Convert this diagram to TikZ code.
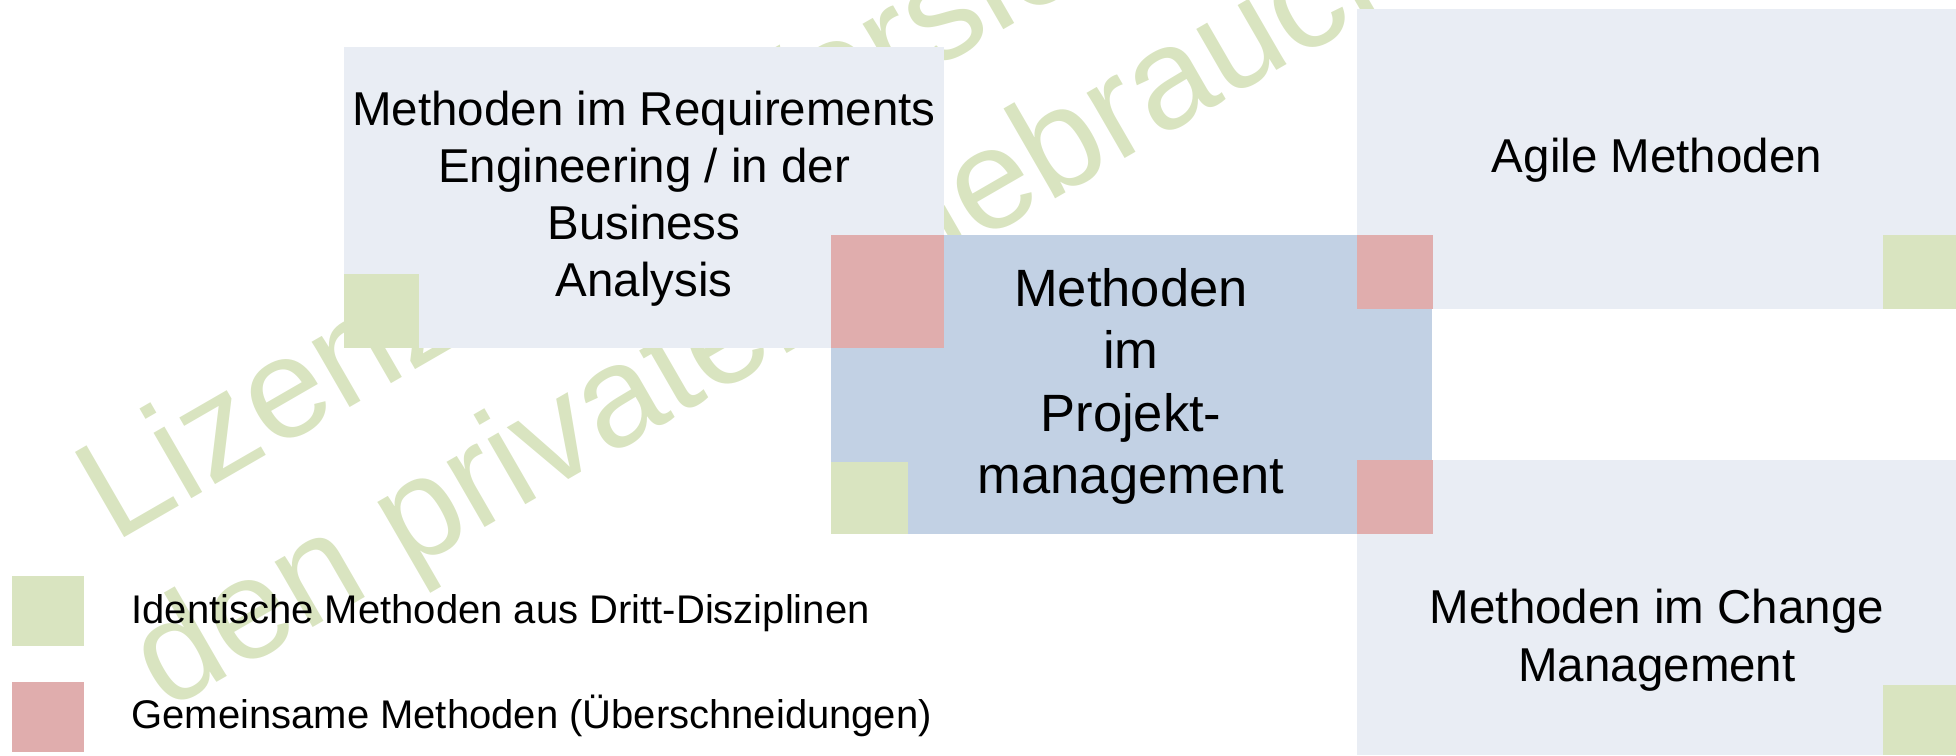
\documentclass[tikz,border=0pt]{standalone}
\usepackage{fontspec}
\setmainfont{Liberation Sans}
\definecolor{boxlight}{HTML}{E9EDF4}
\definecolor{boxpm}{HTML}{C2D1E4}
\definecolor{sqred}{HTML}{E0ADAD}
\definecolor{sqgreen}{HTML}{D9E4C0}
\begin{document}
\begin{tikzpicture}[x=0.4pt,y=0.4pt]
\tikzstyle{every node}+=[inner sep=0pt]
\tikzstyle{wmark}=[rotate=30,text=sqgreen,font=\fontsize{57.2}{68}\selectfont,anchor=base west]
\tikzstyle{boxtext}=[align=center,anchor=base,font=\fontsize{19}{22.7}\selectfont]
\tikzstyle{pmtext}=[align=center,anchor=base,font=\fontsize{21}{25}\selectfont]
\tikzstyle{legtext}=[anchor=base west,font=\fontsize{16}{19}\selectfont]
\useasboundingbox (0,0) rectangle (1956,-755);
\begin{scope}
\clip (0,0) rectangle (1956,-755);
\draw (114,-543.5) node (wmA) [wmark] {Lizenzierte Version};
\draw (166,-712) node (wmB) [wmark] {den privaten Gebrauch};
\end{scope}
\fill [boxlight] (344,-47) rectangle (944,-348);
\fill [boxpm] (831,-235) rectangle (1432,-534);
\fill [boxlight] (1357,-9) rectangle (1956,-309);
\fill [boxlight] (1357,-460) rectangle (1956,-755);
\fill [sqred] (831,-235) rectangle (944,-348);
\fill [sqred] (1357,-235) rectangle (1433,-309);
\fill [sqred] (1357,-460) rectangle (1433,-534);
\fill [sqgreen] (344,-274) rectangle (419,-348);
\fill [sqgreen] (831,-462) rectangle (908,-534);
\fill [sqgreen] (1883,-235) rectangle (1956,-309);
\fill [sqgreen] (1883,-685) rectangle (1956,-755);
\draw (644,-296) node (re) [boxtext] {Methoden im Requirements\\Engineering / in der\\Business\\Analysis};
\draw (1131,-493.5) node (pm) [pmtext] {Methoden\\im\\Projekt-\\management};
\draw (1657,-172) node (agile) [boxtext] {Agile Methoden};
\draw (1657,-681) node (cm) [boxtext,font=\fontsize{19}{23}\selectfont] {Methoden im Change\\Management};
\fill [sqgreen] (12,-576) rectangle (84,-646);
\fill [sqred] (12,-682) rectangle (84,-752);
\draw (131,-623) node (leggreen) [legtext] {Identische Methoden aus Dritt-Disziplinen};
\draw (131,-728) node (legred) [legtext] {Gemeinsame Methoden (Überschneidungen)};
\end{tikzpicture}
\end{document}
